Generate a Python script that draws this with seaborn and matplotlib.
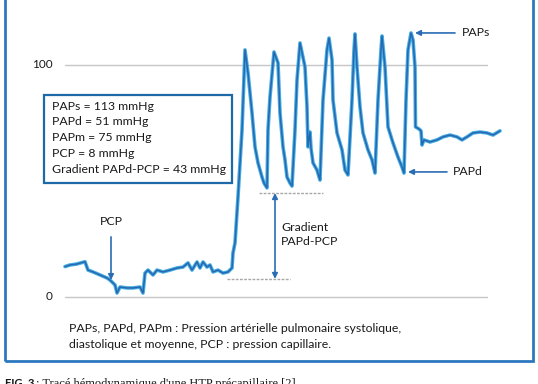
import matplotlib
matplotlib.use('Agg')
import matplotlib.pyplot as plt
import seaborn as sns
import pandas as pd
from matplotlib.patches import Rectangle

# trace : temps (unites arbitraires) / pression (mmHg)
t_pcp = [0, 5, 11.7, 20, 23, 28, 35, 42, 45, 50, 52, 55, 62, 68, 75, 78, 80, 83, 88, 92,
         98, 105, 112, 118, 123, 127, 132, 135, 138, 142, 145, 148, 153, 158, 163, 167]
p_pcp = [13.1, 13.8, 14.2, 15.2, 11.6, 10.8, 9.5, 8.2, 7.3, 5.2, 1.7, 4.3, 3.9, 3.9, 4.3, 1.7, 10.3, 11.6, 9.5, 11.6,
         10.8, 11.6, 12.5, 12.9, 14.7, 11.6, 15.1, 12.5, 15.1, 12.9, 13.8, 10.8, 11.6, 10.3, 10.8, 12.5]

t_pap = [168, 170, 173, 177, 180, 183, 187, 190, 193, 197, 199, 202,
         203, 205, 209, 213, 215, 218, 220, 222, 225, 227,
         230, 232, 235, 240, 242, 243, 245, 246, 248, 252, 255,
         258, 262, 264, 267, 268, 272, 277, 280, 283,
         287, 289, 290, 292, 295, 298, 303, 307, 310,
         313, 316, 317, 320, 322, 323, 328, 333, 337, 339,
         341, 343, 346, 348, 350, 350.5, 354, 356, 357, 359, 365, 372, 378,
         385, 392, 397, 402, 408, 415, 422, 428, 435]
p_pap = [19.0, 23.3, 43.1, 72.0, 106.5, 96.6, 79.3, 64.7, 57.8, 51.7, 49.1, 47.0,
         72.0, 86.2, 105.6, 100.9, 79.3, 64.7, 59.1, 51.7, 49.1, 47.8,
         72.0, 93.5, 109.5, 99.1, 81.9, 64.7, 71.1, 64.2, 57.8, 54.7, 50.4,
         84.9, 106.5, 111.6, 102.2, 84.9, 70.7, 63.4, 54.7, 52.6,
         84.9, 106.5, 113.4, 99.1, 81.9, 70.7, 63.4, 59.1, 53.4,
         84.9, 106.5, 112.5, 99.1, 81.9, 73.3, 66.4, 60.3, 56.0, 53.4,
         84.9, 106.5, 113.8, 110.8, 99.1, 73.3, 72.4, 71.6, 65.5, 67.7, 66.8, 67.7, 69.0,
         69.8, 69.0, 67.7, 69.0, 70.7, 71.1, 70.7, 69.8, 71.6]

valeurs = ['PAPs = 113 mmHg', 'PAPd = 51 mmHg', 'PAPm = 75 mmHg', 'PCP = 8 mmHg',
           'Gradient PAPd-PCP = 43 mmHg']
note = ['PAPs, PAPd, PAPm : Pression artérielle pulmonaire systolique,',
        'diastolique et moyenne, PCP : pression capillaire.']
legende = ": Tracé hémodynamique d'une HTP précapillaire [2]"

df = pd.DataFrame({'t': t_pcp + t_pap, 'p': p_pcp + p_pap})

sns.set_theme(style='white')
plt.rcParams['font.family'] = ['Lato', 'DejaVu Sans']

fig = plt.figure(figsize=(5.38, 3.84), dpi=100)
ax = fig.add_axes([0, 0, 1, 1])
ax.set_xlim(-65, 473)
ax.set_ylim(-37.5, 128.0)
ax.axis('off')

bleu = '#2a6db5'
gris = '#c6c6c6'
txt = '#1a1a1a'
fs = 8.8

# grille 0 / 100
for g in [0, 100]:
    ax.plot([0, 422], [g, g], color=gris, lw=1, zorder=1)
ax.text(-12, 100, '100', ha='right', va='center', fontsize=8.5, color=txt)
ax.text(-12, 0, '0', ha='right', va='center', fontsize=8.5, color=txt)

# trace
sns.lineplot(data=df, x='t', y='p', ax=ax, color='#45aee3', lw=2.6, sort=False, estimator=None, zorder=3)
sns.lineplot(data=df, x='t', y='p', ax=ax, color='#1d4f9e', lw=1.1, alpha=0.75, sort=False, estimator=None, zorder=4)

# pointilles
ax.plot([194, 258], [44.8, 44.8], color='#a8a8a8', lw=1, ls=(0, (2, 1)), zorder=2)
ax.plot([162, 225], [7.8, 7.8], color='#a8a8a8', lw=1, ls=(0, (2, 1)), zorder=2)

# fleches
fl = dict(arrowstyle='-|>', color=bleu, lw=1.2, mutation_scale=8, shrinkA=0, shrinkB=0)
ax.annotate('', xy=(350, 113.8), xytext=(390, 113.8), arrowprops=fl)
ax.text(397, 113.8, 'PAPs', ha='left', va='center', fontsize=fs, color=txt)
ax.annotate('', xy=(343, 53.9), xytext=(382, 53.9), arrowprops=fl)
ax.text(388, 53.9, 'PAPd', ha='left', va='center', fontsize=fs, color=txt)
ax.annotate('', xy=(46, 7.3), xytext=(46, 25.9), arrowprops=fl)
ax.text(46, 30.0, 'PCP', ha='center', va='bottom', fontsize=fs, color=txt)
ax.annotate('', xy=(210, 44.8), xytext=(210, 7.8),
            arrowprops=dict(arrowstyle='<|-|>', color=bleu, lw=1.2, mutation_scale=8, shrinkA=0, shrinkB=0))
ax.text(216, 26.8, 'Gradient\nPAPd-PCP', ha='left', va='center', fontsize=fs, color=txt, linespacing=1.3)

# encadre des valeurs
ax.add_patch(Rectangle((-21, 49.1), 188, 38.0, fill=True, facecolor='white', edgecolor='#1e6aa8', lw=1.6, zorder=5))
ys = [82.3, 75.6, 68.7, 61.9, 55.0]
for s, y in zip(valeurs, ys):
    ax.text(-13, y, s, ha='left', va='center', fontsize=fs, color=txt, zorder=6)

# note
ax.text(4, -13.4, note[0], ha='left', va='center', fontsize=fs, color=txt)
ax.text(4, -20.3, note[1], ha='left', va='center', fontsize=fs, color=txt)

# cadre
ax.add_patch(Rectangle((-60, -27.6), 528, 160, fill=False, edgecolor='#2b78be', lw=2, zorder=7, clip_on=False))

# legende coupee en bas
ax.text(-60, -34.9, 'FIG. 3', ha='left', va='top', fontsize=8, fontweight='bold', color=txt)
ax.text(-29, -34.9, legende, ha='left', va='top', fontsize=9, color=txt,
        family=['Liberation Serif', 'DejaVu Serif'])

fig.savefig('out.png', dpi=100)
